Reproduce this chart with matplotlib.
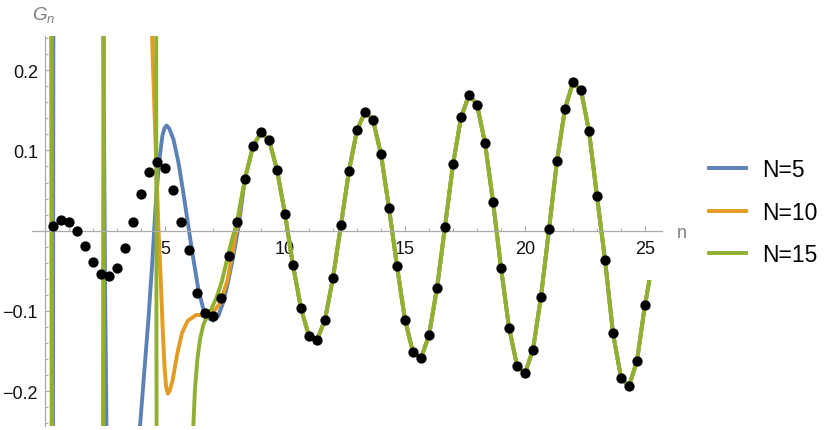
import numpy as np
import matplotlib
matplotlib.use('Agg')
import matplotlib.pyplot as plt
from matplotlib.ticker import FixedLocator, MultipleLocator


plt.rcParams.update({
    "font.family": ["Liberation Sans", "DejaVu Sans"],
    "mathtext.fontset": "custom",
    "mathtext.it": "Liberation Sans:italic",
    "mathtext.rm": "Liberation Sans",})
CL = {
    'BLU': '#5E81B5',  # N=5
    'ORA': '#E19C24',  # N=10
    'GRN': '#8FB032',  # N=15
    'AXS': '#ababab',  # axes + ticks
    'LAB': '#7f7f7f',  # axis labels
}


""" Data (read off the picture) """
# black dots, one every 1/3 in n
n_dots = np.arange(1, 76) / 3
g_dots = np.array([
    0.0062, 0.0130, 0.0110, 0.0000, -0.0195, -0.0390, -0.0540, -0.0570, -0.0460, -0.0220,
    0.0110, 0.0460, 0.0730, 0.0860, 0.0780, 0.0510, 0.0104, -0.0240, -0.0780, -0.1030,
    -0.1060, -0.0840, -0.0315, 0.0112, 0.0650, 0.1050, 0.1224, 0.1130, 0.0760, 0.0207,
    -0.0430, -0.0967, -0.1315, -0.1360, -0.1110, -0.0585, 0.0075, 0.0747, 0.1253, 0.1477,
    0.1380, 0.0950, 0.0282, -0.0444, -0.1110, -0.1515, -0.1590, -0.1300, -0.0714, 0.0050,
    0.0826, 0.1410, 0.1690, 0.1570, 0.1095, 0.0360, -0.0460, -0.1207, -0.1680, -0.1776,
    -0.1480, -0.0820, 0.0017, 0.0870, 0.1520, 0.1846, 0.1750, 0.1237, 0.0427, -0.0361,
    -0.1280, -0.1830, -0.1938, -0.1618, -0.0921,
])

# the three curves before they merge; +-0.3 is off the plot (vertical blow-ups)
blue_n = [0.33, 0.35, 2.42, 2.50, 2.58, 3.94, 3.96, 4.125, 4.31, 4.47, 4.61, 4.75, 4.89, 4.98,
          5.07, 5.18, 5.35, 5.56, 5.76, 5.97, 6.18, 6.39, 6.60, 6.80, 7.01, 7.22, 7.43, 7.64,
          7.85, 8.06]
blue_v = [-0.3, 0.3, 0.3, -0.06, -0.3, -0.3, -0.243, -0.180, -0.110, -0.039, 0.031, 0.085, 0.118,
          0.128, 0.131, 0.127, 0.114, 0.085, 0.048, 0.006, -0.035, -0.073, -0.098, -0.109, -0.112,
          -0.106, -0.089, -0.062, -0.031, 0.004]

orange_n = [0.26, 0.28, 2.42, 2.44, 4.44, 4.46, 4.55, 4.64, 4.73, 4.82, 4.90, 4.98, 5.05, 5.12,
            5.20, 5.32, 5.50, 5.70, 5.95, 6.30, 6.65, 7.00, 7.30, 7.60, 7.80, 8.00]
orange_v = [0.3, -0.3, -0.3, 0.3, 0.3, 0.241, 0.160, 0.080, 0.000, -0.060, -0.120, -0.170,
            -0.195, -0.203, -0.199, -0.186, -0.155, -0.128, -0.112, -0.105, -0.105, -0.102,
            -0.090, -0.062, -0.030, 0.005]

green_n = [0.27, 0.29, 2.43, 2.45, 4.63, 4.65, 6.16, 6.18, 6.25, 6.35, 6.46, 6.60, 6.78, 6.94,
           7.15, 7.36, 7.57, 7.78, 8.00]
green_v = [0.3, -0.3, -0.3, 0.3, 0.3, -0.3, -0.3, -0.243, -0.197, -0.160, -0.135, -0.117,
           -0.105, -0.097, -0.083, -0.064, -0.038, -0.012, 0.011]

# from n~8.3 on all three curves run through the dots, then stop here
end_n, end_v = 25.17, -0.064

labels = ['N=5', 'N=10', 'N=15']


""" Process """
tail = n_dots > 8.2
curves = []
for cn, cv in [(blue_n, blue_v), (orange_n, orange_v), (green_n, green_v)]:
    x = np.concatenate([cn, n_dots[tail], [end_n]])
    y = np.concatenate([cv, g_dots[tail], [end_v]])
    curves.append((x, y))


""" Plot """
fig = plt.figure(figsize=(8.3, 4.31), dpi=100)
ax = fig.add_axes([31.8 / 830, 4.2 / 431, 630 / 830, 389.4 / 431])

for (x, y), c, lab in zip(curves, [CL['BLU'], CL['ORA'], CL['GRN']], labels):
    ax.plot(x, y, c=c, lw=2.8, label=lab, solid_joinstyle='round')
ax.plot(n_dots, g_dots, 'o', c='k', ms=7.4, mew=0, zorder=5)

ax.set_xlim([-0.55, 25.7])
ax.set_ylim([-0.243, 0.242])

# Mathematica style axes through the origin
for s in ['top', 'right']:
    ax.spines[s].set_visible(False)
ax.spines['left'].set_position(('data', 0))
ax.spines['bottom'].set_position(('data', 0))
for s in ['left', 'bottom']:
    ax.spines[s].set_color(CL['AXS'])
    ax.spines[s].set_linewidth(0.9)

ax.set_xticks([5, 10, 15, 20, 25])
ax.xaxis.set_minor_locator(FixedLocator(list(range(1, 26))))
ax.set_yticks([-0.2, -0.1, 0.1, 0.2])
ax.yaxis.set_minor_locator(MultipleLocator(0.02))
ax.tick_params(which='both', direction='in', color=CL['AXS'], width=0.8,
               labelcolor='#111111', labelsize=13)
ax.tick_params(which='major', length=3.6)
ax.tick_params(which='minor', length=2.2)
ax.tick_params(axis='x', pad=7)
ax.tick_params(axis='y', pad=5)

fig.text(44 / 830, 1 - 15 / 431, '$G_n$', ha='center', va='center', color=CL['LAB'], fontsize=13.5)
fig.text(682 / 830, 1 - 234 / 431, 'n', ha='center', va='center', color=CL['LAB'], fontsize=13)

fig.legend(loc='center left', bbox_to_anchor=(709.3 / 830, 1 - 213.3 / 431), frameon=False,
           fontsize=16.5, handlelength=1.6, handletextpad=0.7, labelspacing=0.85,
           borderpad=0, borderaxespad=0)

fig.savefig('out.png', dpi=100)
